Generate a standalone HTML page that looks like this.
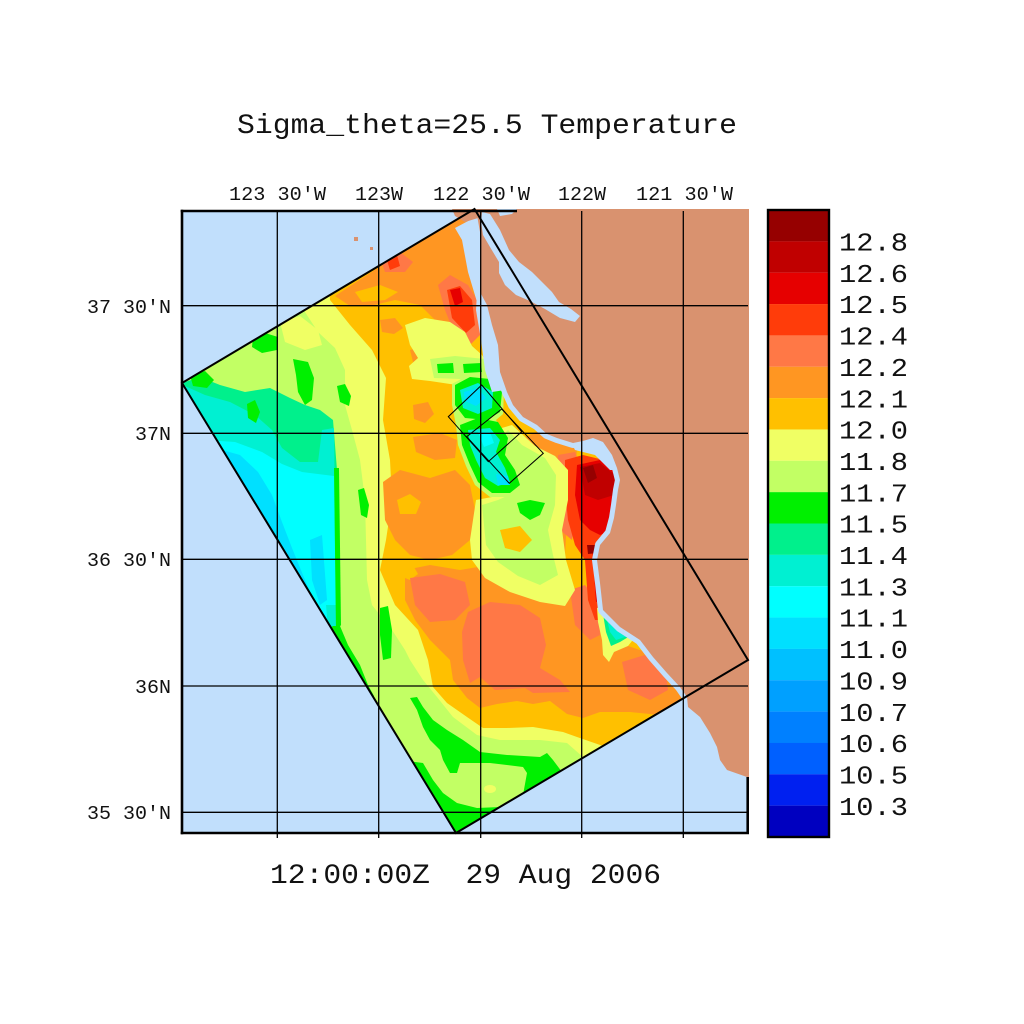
<!DOCTYPE html>
<html><head><meta charset="utf-8"><style>
html,body{margin:0;padding:0;background:#fff;}
svg{display:block;}
text{font-family:"Liberation Mono","DejaVu Sans Mono",monospace;fill:#111;}
</style></head><body>
<svg width="1024" height="1024" viewBox="0 0 1024 1024" xmlns="http://www.w3.org/2000/svg">
<defs>
<clipPath id="dom"><polygon points="474.5,209 748,660 456,833 182,383"/></clipPath>
<clipPath id="frm"><rect x="182" y="209" width="567" height="624"/></clipPath>
</defs>
<rect width="1024" height="1024" fill="#fff"/>
<!-- ocean -->
<rect x="182" y="211" width="566" height="622" fill="#c1dffc"/>

<g clip-path="url(#dom)">
<rect x="150" y="200" width="620" height="650" fill="#ffc000"/>
<!-- west yellow -->
<path fill="#f0ff64" d="M100,200 L325,200 L330,300 L350,325 L372,350 L386,378 L383,420 L390,460 L392,500 L386,540 L380,570 L395,605 L418,630 L428,660 L433,687 L447,703 L467,717 L483,728 L507,728 L533,727 L563,732 L577,737 L603,746 L620,760 L620,900 L100,900 Z"/>
<!-- west light green -->
<path fill="#c2ff64" d="M100,200 L300,200 L305,312 L318,332 L335,348 L345,370 L345,405 L352,430 L360,460 L365,500 L366,540 L367,580 L372,605 L392,630 L405,650 L410,660 L423,680 L437,697 L453,717 L477,735 L500,740 L540,740 L567,743 L583,757 L600,800 L100,900 Z"/>
<path fill="#f0ff64" d="M280,322 L300,316 L318,330 L322,345 L305,350 L285,342 Z"/>
<!-- cool west zone -->
<path fill="#00f08c" d="M150,383 L182,383 L200,377 L220,385 L245,392 L270,388 L290,398 L305,405 L320,410 L333,420 L337,470 L338,540 L339,610 L335,632 L300,660 L150,430 Z"/>
<path fill="#00f0d2" d="M150,390 L185,386 L205,395 L230,402 L255,415 L272,430 L282,448 L300,462 L318,462 L322,430 L334,428 L336,600 L332,640 L300,660 L150,430 Z"/>
<path fill="#00ffff" d="M205,440 L235,442 L262,452 L282,464 L302,472 L334,476 L336,610 L330,640 L300,660 L150,450 Z"/>
<path fill="#00e0ff" d="M215,448 L240,455 L258,472 L272,495 L282,522 L292,548 L305,580 L318,610 L330,632 L300,660 L150,450 Z"/>
<path fill="#00e0ff" d="M310,540 L322,535 L327,600 L320,605 L312,580 Z"/>
<path fill="#00f0d2" d="M326,605 L336,605 L337,628 L328,628 Z"/>
<path fill="#00f000" d="M334,468 L339,468 L341,625 L336,632 Z"/>
<path fill="#00f000" d="M333,626 L340,626 L348,645 L360,665 L368,685 L374,696 L370,700 L300,650 Z"/>
<!-- west blobs -->
<path fill="#00f000" d="M253,338 L265,333 L278,337 L277,350 L262,353 L252,347 Z"/>
<path fill="#00f000" d="M293,359 L308,362 L314,378 L312,400 L305,405 L298,392 L296,375 Z"/>
<path fill="#00f000" d="M190,375 L205,371 L214,380 L207,388 L193,386 Z"/>
<path fill="#00f000" d="M247,404 L255,400 L260,412 L256,423 L248,418 Z"/>
<path fill="#00f000" d="M337,386 L345,384 L351,396 L349,406 L340,402 Z"/>
<path fill="#00f000" d="M358,490 L364,488 L369,505 L367,518 L361,515 Z"/>
<path fill="#00f000" d="M380,608 L388,606 L392,630 L391,658 L383,660 L380,635 Z"/>
<!-- south bands -->
<path fill="#00f000" d="M410,698 L417,697 L423,707 L433,720 L447,730 L463,740 L480,752 L507,755 L540,757 L547,753 L553,760 L562,772 L523,795 L527,773 L523,767 L490,763 L460,763 L457,773 L450,773 L443,760 L440,750 L430,740 L423,727 L417,710 Z"/>
<path fill="#00f000" d="M400,760 L423,763 L433,780 L443,793 L457,803 L477,808 L500,807 L520,800 L520,850 L400,850 Z"/>
<ellipse cx="490" cy="789" rx="6" ry="4" fill="#f0ff64"/>
<!-- orange patches -->
<path fill="#ff9622" d="M335,296 L474,205 L485,240 L483,300 L470,332 L455,345 L440,325 L420,305 L395,300 L370,306 L350,306 Z"/>
<path fill="#ffc000" d="M355,292 L380,285 L398,292 L385,300 L362,302 Z"/>
<path fill="#ff9622" d="M380,320 L395,318 L403,328 L394,334 L382,332 Z"/>
<path fill="#ff9622" d="M410,350 L425,346 L434,358 L430,372 L415,370 Z"/>
<path fill="#ff9622" d="M413,405 L428,402 L434,414 L425,423 L414,419 Z"/>
<path fill="#ff9622" d="M413,437 L440,433 L457,440 L455,458 L435,460 L416,452 Z"/>
<path fill="#ff9622" d="M383,482 L400,470 L430,478 L455,470 L470,485 L476,515 L470,540 L452,555 L430,560 L410,555 L395,540 L385,520 Z"/>
<path fill="#ffc000" d="M397,500 L410,494 L421,502 L416,514 L400,514 Z"/>
<path fill="#ff9622" d="M405,570 L430,565 L460,570 L490,565 L520,580 L560,590 L590,600 L610,640 L640,650 L670,660 L695,690 L660,715 L630,712 L600,712 L583,718 L567,714 L550,701 L533,704 L517,701 L497,704 L480,708 L467,698 L453,680 L450,660 L430,640 L415,620 L405,600 Z"/>
<path fill="#ffc000" d="M400,562 L410,560 L418,574 L410,580 L400,576 Z"/>
<path fill="#ff9622" d="M520,440 L540,430 L560,438 L577,450 L575,470 L560,466 L540,456 Z"/>
<path fill="#ff9622" d="M533,510 L555,505 L567,520 L565,555 L548,560 L535,540 Z"/>
<!-- salmon -->
<path fill="#ff7846" d="M468,612 L490,602 L520,605 L540,618 L546,645 L540,668 L560,680 L570,692 L533,693 L525,688 L495,690 L480,677 L470,683 L463,660 L462,632 Z"/>
<path fill="#ff7846" d="M410,578 L440,574 L465,582 L470,605 L455,620 L430,622 L415,605 Z"/>
<path fill="#ff7846" d="M622,662 L645,655 L665,665 L668,690 L650,700 L628,690 Z"/>
<path fill="#ff7846" d="M438,285 L450,275 L468,285 L480,305 L480,335 L470,345 L455,335 L445,310 Z"/>
<path fill="#ff7846" d="M380,258 L400,252 L413,262 L405,272 L385,272 Z"/>
<path fill="#ff7846" d="M570,590 L585,585 L598,600 L600,635 L590,640 L575,625 Z"/>
<path fill="#ff7846" d="M558,455 L575,452 L582,470 L572,540 L560,530 L556,490 Z"/>
<!-- reds -->
<path fill="#ff3c0a" d="M447,290 L460,286 L472,300 L475,325 L466,333 L452,318 Z"/>
<path fill="#ff3c0a" d="M386,257 L397,255 L400,266 L390,270 Z"/>
<path fill="#ff3c0a" d="M565,460 L583,455 L612,462 L622,480 L618,500 L615,530 L605,545 L600,560 L605,590 L600,620 L595,620 L588,600 L585,560 L575,545 L568,520 L565,490 Z"/>
<path fill="#e60000" d="M450,290 L460,288 L463,302 L455,306 Z"/>
<path fill="#e60000" d="M577,465 L600,460 L617,470 L618,505 L612,530 L600,535 L590,530 L580,520 L575,495 Z"/>
<path fill="#e60000" d="M592,545 L600,545 L601,600 L596,602 Z"/>
<path fill="#c00000" d="M580,467 L600,463 L615,475 L614,495 L598,500 L585,495 Z"/>
<path fill="#960000" d="M583,468 L593,465 L597,478 L588,483 Z"/>
<path fill="#960000" d="M587,545 L597,545 L598,553 L588,554 Z"/>
<!-- center-east cool complex -->
<path fill="#f0ff64" d="M405,325 L425,318 L450,322 L465,332 L472,346 L482,355 L490,366 L492,382 L470,386 L450,384 L430,381 L412,379 L409,366 L418,358 L410,345 Z"/>
<path fill="#c2ff64" d="M430,359 L455,356 L485,359 L491,376 L460,379 L434,378 Z"/>
<path fill="#00f000" d="M437,364 L453,363 L454,373 L438,373 Z"/>
<path fill="#00f000" d="M463,364 L481,363 L482,372 L464,373 Z"/>
<!-- south-east yellow/light green -->
<path fill="#f0ff64" d="M495,430 L512,425 L535,446 L555,456 L568,470 L568,500 L562,530 L566,560 L575,590 L565,606 L540,602 L510,592 L485,578 L472,560 L470,540 L473,520 L476,500 L492,497 Z"/>
<path fill="#c2ff64" d="M500,438 L508,430 L522,445 L545,458 L556,475 L555,505 L548,530 L553,555 L558,575 L540,585 L518,576 L498,562 L486,545 L484,525 L482,505 L498,500 L520,490 L512,462 Z"/>
<path fill="#ffc000" d="M500,530 L520,526 L532,540 L520,552 L505,548 Z"/>
<!-- blobs -->
<path fill="#c2ff64" d="M452,384 L470,374 L492,377 L504,392 L503,414 L496,420 L506,436 L510,458 L522,474 L524,490 L510,497 L490,497 L475,485 L466,466 L458,445 L456,425 L452,405 Z"/>
<path fill="#00f000" d="M455,385 L470,377 L490,379 L502,392 L500,412 L487,420 L465,418 L455,405 Z"/>
<path fill="#00f0d2" d="M460,390 L478,383 L493,392 L492,408 L478,414 L463,408 Z"/>
<path fill="#00e0ff" d="M464,392 L478,388 L486,398 L476,406 L465,401 Z"/>
<path fill="#00f000" d="M460,425 L478,418 L498,422 L508,438 L505,455 L515,470 L520,485 L510,493 L492,493 L478,482 L470,465 L462,445 Z"/>
<path fill="#00f0d2" d="M468,430 L490,428 L500,440 L496,452 L505,468 L510,482 L498,486 L485,478 L476,460 L470,445 Z"/>
<path fill="#00ffff" d="M478,432 L490,432 L494,443 L484,447 Z"/>
<path fill="#00e0ff" d="M496,474 L508,476 L510,485 L498,485 Z"/>
<path fill="#00f000" d="M517,503 L530,500 L545,503 L540,515 L530,520 L520,513 Z"/>
<!-- Carmel -->
<path fill="#f0ff64" d="M597,608 L606,606 L622,620 L636,636 L628,646 L614,652 L609,662 L603,655 L602,640 L598,622 Z"/>
<path fill="#00f08c" d="M603,614 L614,620 L630,636 L620,642 L611,646 L606,632 Z"/>
<path fill="#00f0d2" d="M607,620 L618,626 L628,636 L616,640 L610,632 Z"/>
</g>

<!-- land with ocean margin -->
<g clip-path="url(#frm)">
<path fill="#c1dffc" d="M455,228 L470,220 L478,215 L481,300 L477,302 L468,272 L462,240 Z"/>
<path fill="#c1dffc" d="M477,292 L488,300 L495,335 L500,365 L505,390 L492,392 L485,370 L481,340 L476,310 Z"/>
<path fill="#c1dffc" d="M570,440 L600,436 L615,450 L620,470 L610,470 L595,455 L575,450 Z"/>
<path fill="#c1dffc" stroke="#c1dffc" stroke-width="10" stroke-linejoin="round" d="M478,208 L750,208 L750,777 L747,777 L727,770 L720,760 L717,747 L710,733 L700,717 L688,707 L687,697 L680,687 L667,673 L653,657 L640,640 L620,627 L603,610 L600,583 L597,560 L600,545 L610,533 L614,518 L616,505 L618,490 L620,480 L617,468 L612,455 L603,442 L593,438 L583,441 L573,443 L557,438 L547,434 L537,425 L523,417 L513,405 L507,392 L500,372 L498,345 L492,325 L487,305 L480,292 L480,232 L477,215 Z"/>
<path fill="#d9926f" d="M478,208 L750,208 L750,777 L747,777 L727,770 L720,760 L717,747 L710,733 L700,717 L688,707 L687,697 L680,687 L667,673 L653,657 L640,640 L620,627 L603,610 L600,583 L597,560 L600,545 L610,533 L614,518 L616,505 L618,490 L620,480 L617,468 L612,455 L603,442 L593,438 L583,441 L573,443 L557,438 L547,434 L537,425 L523,417 L513,405 L507,392 L500,372 L498,345 L492,325 L487,305 L480,292 L480,232 L477,215 Z"/>
<path fill="#d9926f" d="M452,209 L480,209 L478,218 L465,222 L455,216 Z"/>
<rect x="354" y="237" width="4" height="4" fill="#d9926f"/>
<rect x="370" y="247" width="3" height="3" fill="#d9926f"/>
<!-- SF bay -->
<path fill="#c1dffc" d="M482,212 L490,214 L500,230 L509,250 L519,262 L532,272 L542,282 L552,292 L559,302 L571,309 L580,316 L575,322 L560,318 L545,309 L530,301 L516,295 L505,285 L499,273 L499,262 L490,247 L483,235 L481,222 Z"/>
<path fill="#c1dffc" d="M497,209 L517,209 L512,214 L500,216 Z"/>
</g>

<!-- grid -->
<g stroke="#000" stroke-width="1.3" fill="none">
<line x1="277.3" y1="211" x2="277.3" y2="838"/>
<line x1="378.7" y1="211" x2="378.7" y2="838"/>
<line x1="480.7" y1="211" x2="480.7" y2="838"/>
<line x1="581.7" y1="211" x2="581.7" y2="838"/>
<line x1="683.3" y1="211" x2="683.3" y2="838"/>
<line x1="182" y1="305.7" x2="748" y2="305.7"/>
<line x1="182" y1="433.3" x2="748" y2="433.3"/>
<line x1="182" y1="559.3" x2="748" y2="559.3"/>
<line x1="182" y1="686" x2="748" y2="686"/>
<line x1="182" y1="812.3" x2="748" y2="812.3"/>
</g>
<!-- frame -->
<g stroke="#000" stroke-width="2.6" fill="none">
<line x1="182" y1="209.7" x2="182" y2="834.3"/>
<line x1="180.7" y1="833" x2="749" y2="833"/>
<line x1="180.7" y1="211" x2="517" y2="211"/>
<line x1="747.7" y1="777" x2="747.7" y2="834"/>
</g>
<!-- domain outline -->
<polygon points="474.5,209 748,660 456,833 182,383" fill="none" stroke="#000" stroke-width="2"/>
<!-- diamonds -->
<g fill="none" stroke="#000" stroke-width="1">
<polygon points="481.7,385 521.7,431.7 488.3,461.7 448.3,416.7"/>
<polygon points="501.7,409 543.3,453.3 509.3,483.3 466.7,436.7"/>
</g>

<!-- colorbar -->
<g>
<rect x="768" y="210" width="61" height="31.4" fill="#960000"/>
<rect x="768" y="241.35" width="61" height="31.4" fill="#c00000"/>
<rect x="768" y="272.7" width="61" height="31.4" fill="#e60000"/>
<rect x="768" y="304.05" width="61" height="31.4" fill="#ff3c0a"/>
<rect x="768" y="335.4" width="61" height="31.4" fill="#ff7846"/>
<rect x="768" y="366.75" width="61" height="31.4" fill="#ff9622"/>
<rect x="768" y="398.1" width="61" height="31.4" fill="#ffc000"/>
<rect x="768" y="429.45" width="61" height="31.4" fill="#f0ff64"/>
<rect x="768" y="460.8" width="61" height="31.4" fill="#c2ff64"/>
<rect x="768" y="492.15" width="61" height="31.4" fill="#00f000"/>
<rect x="768" y="523.5" width="61" height="31.4" fill="#00f08c"/>
<rect x="768" y="554.85" width="61" height="31.4" fill="#00f0d2"/>
<rect x="768" y="586.2" width="61" height="31.4" fill="#00ffff"/>
<rect x="768" y="617.55" width="61" height="31.4" fill="#00e0ff"/>
<rect x="768" y="648.9" width="61" height="31.4" fill="#00c0ff"/>
<rect x="768" y="680.25" width="61" height="31.4" fill="#00a0ff"/>
<rect x="768" y="711.6" width="61" height="31.4" fill="#0080ff"/>
<rect x="768" y="742.95" width="61" height="31.4" fill="#0060ff"/>
<rect x="768" y="774.3" width="61" height="31.4" fill="#0020f0"/>
<rect x="768" y="805.65" width="61" height="31.35" fill="#0000c0"/>
<rect x="768" y="210" width="61" height="627" fill="none" stroke="#000" stroke-width="2.4"/>
</g>
<g font-size="26">
<text x="839" y="250.5" textLength="69" lengthAdjust="spacingAndGlyphs">12.8</text>
<text x="839" y="281.9" textLength="69" lengthAdjust="spacingAndGlyphs">12.6</text>
<text x="839" y="313.2" textLength="69" lengthAdjust="spacingAndGlyphs">12.5</text>
<text x="839" y="344.6" textLength="69" lengthAdjust="spacingAndGlyphs">12.4</text>
<text x="839" y="375.9" textLength="69" lengthAdjust="spacingAndGlyphs">12.2</text>
<text x="839" y="407.3" textLength="69" lengthAdjust="spacingAndGlyphs">12.1</text>
<text x="839" y="438.6" textLength="69" lengthAdjust="spacingAndGlyphs">12.0</text>
<text x="839" y="470.0" textLength="69" lengthAdjust="spacingAndGlyphs">11.8</text>
<text x="839" y="501.3" textLength="69" lengthAdjust="spacingAndGlyphs">11.7</text>
<text x="839" y="532.7" textLength="69" lengthAdjust="spacingAndGlyphs">11.5</text>
<text x="839" y="564.0" textLength="69" lengthAdjust="spacingAndGlyphs">11.4</text>
<text x="839" y="595.4" textLength="69" lengthAdjust="spacingAndGlyphs">11.3</text>
<text x="839" y="626.7" textLength="69" lengthAdjust="spacingAndGlyphs">11.1</text>
<text x="839" y="658.1" textLength="69" lengthAdjust="spacingAndGlyphs">11.0</text>
<text x="839" y="689.4" textLength="69" lengthAdjust="spacingAndGlyphs">10.9</text>
<text x="839" y="720.8" textLength="69" lengthAdjust="spacingAndGlyphs">10.7</text>
<text x="839" y="752.1" textLength="69" lengthAdjust="spacingAndGlyphs">10.6</text>
<text x="839" y="783.5" textLength="69" lengthAdjust="spacingAndGlyphs">10.5</text>
<text x="839" y="814.8" textLength="69" lengthAdjust="spacingAndGlyphs">10.3</text>
</g>

<!-- axis labels -->
<g font-size="19">
<text x="229" y="200" textLength="97" lengthAdjust="spacingAndGlyphs">123 30'W</text>
<text x="355" y="200" textLength="48" lengthAdjust="spacingAndGlyphs">123W</text>
<text x="433" y="200" textLength="97" lengthAdjust="spacingAndGlyphs">122 30'W</text>
<text x="558" y="200" textLength="48" lengthAdjust="spacingAndGlyphs">122W</text>
<text x="636" y="200" textLength="97" lengthAdjust="spacingAndGlyphs">121 30'W</text>
<text x="87" y="313" textLength="84" lengthAdjust="spacingAndGlyphs">37 30'N</text>
<text x="135" y="440" textLength="36" lengthAdjust="spacingAndGlyphs">37N</text>
<text x="87" y="566" textLength="84" lengthAdjust="spacingAndGlyphs">36 30'N</text>
<text x="135" y="693" textLength="36" lengthAdjust="spacingAndGlyphs">36N</text>
<text x="87" y="819" textLength="84" lengthAdjust="spacingAndGlyphs">35 30'N</text>
</g>
<text x="237" y="133" font-size="28" textLength="500" lengthAdjust="spacingAndGlyphs">Sigma_theta=25.5 Temperature</text>
<text x="270" y="883" font-size="28" textLength="391" lengthAdjust="spacingAndGlyphs" xml:space="preserve">12:00:00Z  29 Aug 2006</text>
</svg>
</body></html>
